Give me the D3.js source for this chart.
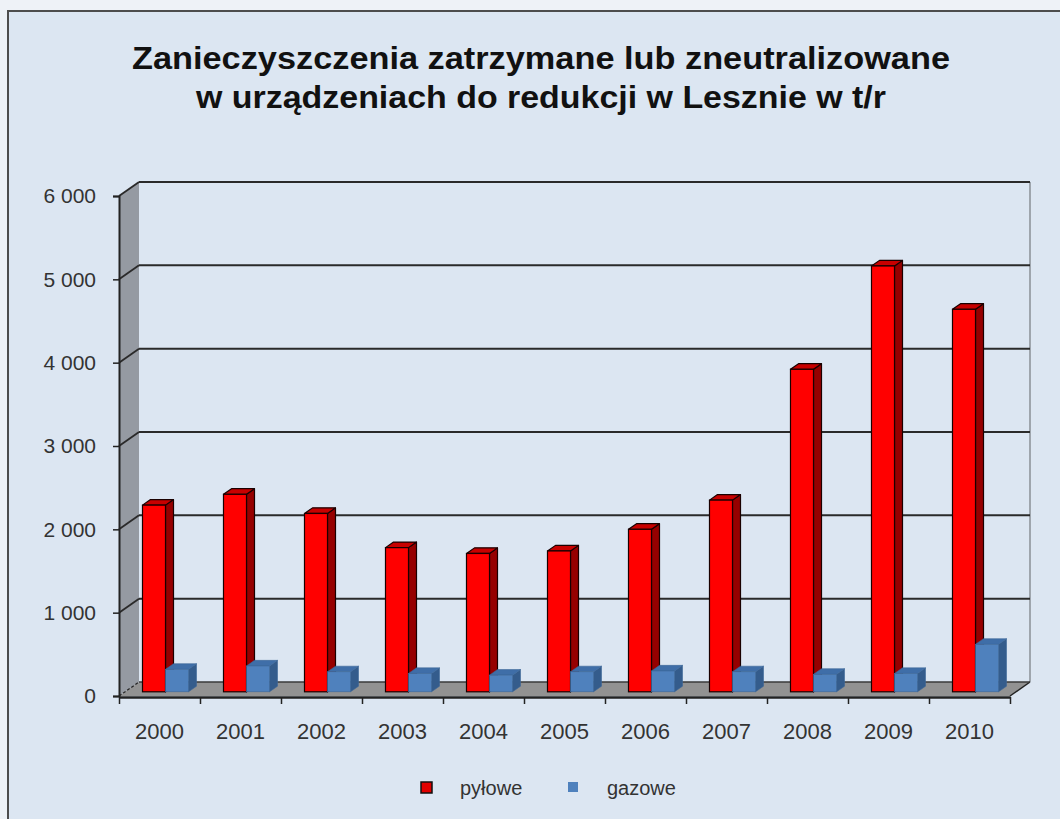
<!DOCTYPE html>
<html>
<head>
<meta charset="utf-8">
<script src="https://cdn.jsdelivr.net/npm/d3@7"></script>
<style>
  html, body { margin: 0; padding: 0; background: #eef2f7; }
  svg { display: block; }
  text { font-family: "Liberation Sans", Arial, sans-serif; }
</style>
</head>
<body>
<svg id="chart" width="1060" height="819"></svg>
<script>
// Data: pollutants retained or neutralised in reduction devices, Leszno (t/yr)
const years = ["2000", "2001", "2002", "2003", "2004", "2005", "2006", "2007", "2008", "2009", "2010"];
const pylowe = [2240, 2370, 2140, 1730, 1660, 1690, 1950, 2300, 3870, 5110, 4590];
const gazowe = [270, 310, 240, 220, 200, 240, 250, 240, 210, 220, 570];
const seriesNames = ["pyłowe", "gazowe"];
const yTicks = [0, 1000, 2000, 3000, 4000, 5000, 6000];
const titleLines = ["Zanieczyszczenia zatrzymane lub zneutralizowane", "w urządzeniach do redukcji w Lesznie w t/r"];

const svg = d3.select("#chart");

// chart area background + frame
svg.append("rect")
  .attr("x", 8).attr("y", 11).attr("width", 1070).attr("height", 830)
  .attr("fill", "#dce6f2").attr("stroke", "#4d4d4d").attr("stroke-width", 2);

// title
const titleW = [818, 690];
svg.append("g").selectAll("text").data(titleLines).join("text")
  .attr("x", 541).attr("y", (d, i) => 69 + i * 39)
  .attr("text-anchor", "middle")
  .attr("font-size", 31).attr("font-weight", "bold").attr("fill", "#111")
  .attr("textLength", (d, i) => titleW[i])
  .attr("lengthAdjust", "spacingAndGlyphs")
  .text(d => d);

// 3D plot geometry: front plane scales plus a depth offset
const DX = 20, DY = 14;
const x0 = d3.scaleBand().domain(years).range([119, 1010]);
const x1 = d3.scaleBand().domain(seriesNames).range([0, x0.bandwidth()]).paddingInner(0).paddingOuter(0.76);
const y = d3.scaleLinear().domain([0, 6000]).range([696, 196]);
const xEdge = d3.scaleLinear().domain([0, years.length]).range([119, 1010]);

const left = x0.range()[0], right = x0.range()[1];
const y0 = y(0), yTop = y(6000);

const plot = svg.append("g");

// side wall (left)
plot.append("path")
  .attr("d", `M${left},${yTop} L${left + DX},${yTop - DY} L${left + DX},${y0 - DY} L${left},${y0} Z`)
  .attr("fill", "#959aa2");

// back wall right edge
plot.append("line")
  .attr("x1", right + DX).attr("x2", right + DX)
  .attr("y1", yTop - DY).attr("y2", y0 - DY)
  .attr("stroke", "#8a8f96").attr("stroke-width", 1.5);

// floor
plot.append("path")
  .attr("d", `M${left},${y0} L${left + DX},${y0 - DY} L${right + DX},${y0 - DY} L${right},${y0} Z`)
  .attr("fill", "#929292");
plot.append("line")
  .attr("x1", right).attr("y1", y0).attr("x2", right + DX).attr("y2", y0 - DY)
  .attr("stroke", "#222").attr("stroke-width", 1.5);
plot.append("line")
  .attr("x1", left).attr("y1", y0).attr("x2", left + DX).attr("y2", y0 - DY)
  .attr("stroke", "#222").attr("stroke-width", 1.2).attr("stroke-dasharray", "3,2");

// gridlines on back wall and side wall
const grid = plot.append("g");
grid.selectAll("line.back").data(yTicks.filter(d => d > 0)).join("line")
  .attr("class", "back")
  .attr("x1", left + DX).attr("x2", right + DX)
  .attr("y1", d => y(d) - DY).attr("y2", d => y(d) - DY)
  .attr("stroke", "#2a2a2a").attr("stroke-width", 2);
grid.append("line")
  .attr("x1", left + DX).attr("x2", right + DX)
  .attr("y1", y0 - DY).attr("y2", y0 - DY)
  .attr("stroke", "#3a3a3a").attr("stroke-width", 1.5);
grid.selectAll("line.side").data(yTicks.filter(d => d > 0)).join("line")
  .attr("class", "side")
  .attr("x1", left).attr("x2", left + DX)
  .attr("y1", d => y(d)).attr("y2", d => y(d) - DY)
  .attr("stroke", "#2a2a2a").attr("stroke-width", 1.8);

// bars
const F0 = 0.3, F1 = 0.7;
const bdx = DX * (F1 - F0), bdy = DY * (F1 - F0);
const colors = {
  "pyłowe": { front: "#ff0000", side: "#960000", top: "#c80000", stroke: "#1a0000", sw: 1.2 },
  "gazowe": { front: "#4f81bd", side: "#345c8c", top: "#3f6ea8", stroke: "#3d6797", sw: 0.6 }
};
const barData = [];
years.forEach((yr, i) => {
  barData.push({ year: yr, series: "pyłowe", value: pylowe[i] });
  barData.push({ year: yr, series: "gazowe", value: gazowe[i] });
});

const bars = plot.append("g").selectAll("g").data(barData).join("g");
bars.each(function (d) {
  const g = d3.select(this);
  const c = colors[d.series];
  const xl = x0(d.year) + x1(d.series) + DX * F0;
  const xr = xl + x1.bandwidth();
  const yt = y(d.value) - DY * F0;
  const yb = y(0) - DY * F0;
  g.append("path")
    .attr("d", `M${xr},${yt} L${xr + bdx},${yt - bdy} L${xr + bdx},${yb - bdy} L${xr},${yb} Z`)
    .attr("fill", c.side).attr("stroke", c.stroke).attr("stroke-width", c.sw).attr("stroke-linejoin", "round");
  g.append("path")
    .attr("d", `M${xl},${yt} L${xl + bdx},${yt - bdy} L${xr + bdx},${yt - bdy} L${xr},${yt} Z`)
    .attr("fill", c.top).attr("stroke", c.stroke).attr("stroke-width", c.sw).attr("stroke-linejoin", "round");
  g.append("rect")
    .attr("x", xl).attr("y", yt).attr("width", xr - xl).attr("height", yb - yt)
    .attr("fill", c.front).attr("stroke", c.stroke).attr("stroke-width", c.sw);
});

// axes
const locale = d3.formatLocale({ decimal: ",", thousands: " ", grouping: [3], currency: ["", ""] });
const fmt = locale.format(",");

const yAxis = svg.append("g")
  .attr("transform", `translate(${left},0)`)
  .call(d3.axisLeft(y).tickValues(yTicks).tickFormat(fmt).tickSize(6).tickPadding(17));
yAxis.selectAll("text").attr("font-size", 21).attr("fill", "#333").style("font-family", "'Liberation Sans', Arial, sans-serif");
yAxis.selectAll("line").attr("stroke", "#222").attr("stroke-width", 1.5);
yAxis.select(".domain").attr("stroke", "#222").attr("stroke-width", 2);

const xAxis = svg.append("g")
  .attr("transform", `translate(0,${y0 + 1})`)
  .call(d3.axisBottom(x0).tickSize(0).tickPadding(26));
xAxis.select(".domain").remove();
xAxis.selectAll("text").attr("font-size", 22).attr("fill", "#333").style("font-family", "'Liberation Sans', Arial, sans-serif");

const xTicks = svg.append("g")
  .attr("transform", `translate(0,${y0 + 1})`)
  .call(d3.axisBottom(xEdge).tickValues(d3.range(years.length + 1)).tickFormat("").tickSize(7).tickSizeOuter(0));
xTicks.selectAll("line").attr("stroke", "#222").attr("stroke-width", 1.5);
xTicks.select(".domain").attr("stroke", "#222").attr("stroke-width", 2.5);

// legend
const legend = svg.append("g");
const legendItems = [
  { name: "pyłowe", x: 421, size: 11, fill: "#e00000", stroke: "#111" },
  { name: "gazowe", x: 568, size: 10, fill: "#4f81bd", stroke: "none" }
];
const li = legend.selectAll("g").data(legendItems).join("g");
li.append("rect")
  .attr("x", d => d.x).attr("y", d => 782).attr("width", d => d.size).attr("height", d => d.size)
  .attr("fill", d => d.fill).attr("stroke", d => d.stroke).attr("stroke-width", 1.5);
li.append("text")
  .attr("x", d => d.x + 39).attr("y", 795)
  .attr("font-size", 20).attr("fill", "#333")
  .text(d => d.name);
</script>
</body>
</html>
